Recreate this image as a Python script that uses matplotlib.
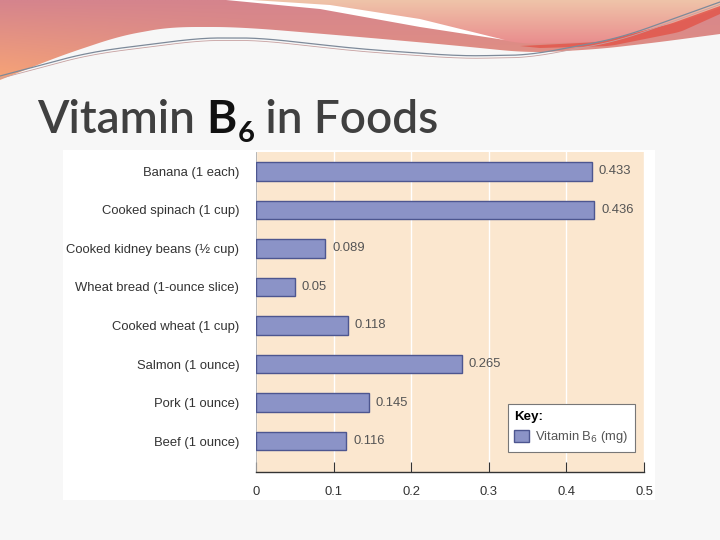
import numpy as np
import matplotlib
matplotlib.use("Agg")
import matplotlib.pyplot as plt
from matplotlib.patches import Polygon, Rectangle
from matplotlib.transforms import IdentityTransform

# chart data
foods = [
    "Banana (1 each)",
    "Cooked spinach (1 cup)",
    "Cooked kidney beans (\u00bd cup)",
    "Wheat bread (1-ounce slice)",
    "Cooked wheat (1 cup)",
    "Salmon (1 ounce)",
    "Pork (1 ounce)",
    "Beef (1 ounce)",
]
b6_mg = [0.433, 0.436, 0.089, 0.05, 0.118, 0.265, 0.145, 0.116]
value_labels = ["0.433", "0.436", "0.089", "0.05", "0.118", "0.265", "0.145", "0.116"]
x_ticks = [0, 0.1, 0.2, 0.3, 0.4, 0.5]
x_tick_labels = ["0", "0.1", "0.2", "0.3", "0.4", "0.5"]

W, H = 720, 540
fig = plt.figure(figsize=(7.2, 5.4), dpi=100)
fig.patch.set_facecolor("#f7f7f7")

# ---------- slide decoration (pixel space overlay) ----------
deco = fig.add_axes([0, 0, 1, 1])
deco.set_xlim(0, W)
deco.set_ylim(H, 0)
deco.axis("off")


def rgb(c):
    return np.array(matplotlib.colors.to_rgb(c))


def clipped_image(ax, pts, img, extent, zorder):
    poly = Polygon(pts, closed=True, facecolor="none", edgecolor="none")
    ax.add_patch(poly)
    im = ax.imshow(img, extent=extent, aspect="auto", zorder=zorder,
                   interpolation="bilinear")
    im.set_clip_path(poly)


def smooth(xs, ys, n=200):
    t = np.linspace(0, 1, len(xs))
    tt = np.linspace(0, 1, n)
    fx = np.interp(tt, t, xs)
    fy = np.interp(tt, t, ys)
    k = 15
    ker = np.ones(k) / k
    fy = np.convolve(np.pad(fy, k // 2, mode="edge"), ker, mode="valid")
    fx = np.convolve(np.pad(fx, k // 2, mode="edge"), ker, mode="valid")
    fx[0], fx[-1] = xs[0], xs[-1]
    fy[0], fy[-1] = ys[0], ys[-1]
    return fx, fy


# main salmon band, 2D gradient: pink on top, orange towards bottom-left
bx, by = smooth([0, 60, 120, 170, 240, 360, 450, 530, 600, 660, 720],
                [80, 56, 36, 27, 27, 37, 45, 53, 49, 42, 34])
band = [(0, 0), (720, 0)] + list(zip(bx[::-1], by[::-1]))
gy = np.linspace(0, 1, 60)[:, None, None]
gx = np.linspace(0, 1, 120)[None, :, None]
top = rgb("#d5848d")
bot_left = rgb("#f7a476")
bot_right = rgb("#e59480")
wx_ = np.clip(gx / 0.35, 0, 1)
bot = bot_left * (1 - wx_) + bot_right * wx_
img = top * (1 - gy) + bot * gy
clipped_image(deco, band, img, (0, 720, 80, 0), zorder=1)

# peach region top-right
px, py = smooth([240, 330, 430, 520, 600, 680, 720], [0, 6, 24, 44, 42, 22, 8])
peach = [(720, 0), (240, 0)] + list(zip(px, py))
g = np.linspace(0, 1, 60)[:, None, None]
img2 = rgb("#efc4a9") * (1 - g) + rgb("#e98a8c") * g
clipped_image(deco, peach, np.repeat(img2, 4, axis=1), (240, 720, 46, 0), zorder=2)

# white wedge between band and peach region
deco.add_patch(Polygon([(226, 0), (252, 0), (330, 5), (420, 19), (505, 40), (420, 27), (320, 9)],
                       closed=True, facecolor="white", edgecolor="none", zorder=3))

# red streak
rx, ry = smooth([520, 600, 670, 720], [46, 42, 24, 6])
rx2, ry2 = smooth([540, 610, 680, 720], [48, 46, 32, 14])
deco.add_patch(Polygon(list(zip(rx, ry)) + list(zip(rx2[::-1], ry2[::-1])), closed=True,
                       facecolor="#e2574c", edgecolor="none", alpha=0.85, zorder=4))

# thin swoosh lines
lx, ly = smooth([0, 90, 200, 260, 360, 460, 530, 620, 720], [76, 52, 38, 38, 49, 56, 55, 38, 2])
deco.plot(lx, ly, color="#7d8a9a", lw=0.9, zorder=5)
deco.plot(lx, ly + 2.5, color="#c7a0a0", lw=0.6, zorder=5)

# white chart panel
deco.add_patch(Rectangle((63, 150), 592, 350, facecolor="white", edgecolor="none", zorder=0.5))

# ---------- title (pieces chained left to right) ----------
fig.canvas.draw()
r = fig.canvas.get_renderer()
t1 = fig.text(37, H - 133, "Vitamin ", fontsize=33, family="Lato", fontweight="semibold",
              color="#404040", va="baseline", transform=IdentityTransform())
x_next = t1.get_window_extent(r).x1
t2 = fig.text(x_next, H - 133, "B", fontsize=33, family="Lato", fontweight="bold",
              color="#111111", va="baseline", transform=IdentityTransform())
x_next = t2.get_window_extent(r).x1 + 1
t3 = fig.text(x_next, H - 142, "6", fontsize=21, family="Lato", fontweight="bold",
              color="#111111", va="baseline", transform=IdentityTransform())
x_next = t3.get_window_extent(r).x1
fig.text(x_next, H - 133, " in Foods", fontsize=33, family="Lato", fontweight="semibold",
         color="#404040", va="baseline", transform=IdentityTransform())

# ---------- bar chart ----------
ax = fig.add_axes([256 / W, 1 - 472 / H, 388 / W, 320 / H])
ax.set_facecolor("#fbe7cf")
y = np.arange(len(foods))[::-1]
bars = ax.barh(y, b6_mg, height=0.48, color="#8b93c7", edgecolor="#4d5690",
               linewidth=1, zorder=3)
for yi, v, lab in zip(y, b6_mg, value_labels):
    ax.text(v + 0.009, yi, lab, va="center", ha="left", fontsize=9.4,
            family="Liberation Sans", color="#555555", zorder=4)

ax.set_xlim(0, 0.5)
ax.set_ylim(-0.8, len(foods) - 0.5)
ax.set_yticks(y)
ax.set_yticklabels(foods, fontsize=9.4, family="Liberation Sans", color="#333333")
ax.set_xticks(x_ticks)
ax.set_xticklabels(x_tick_labels, fontsize=9.4, family="Liberation Sans", color="#333333")
ax.tick_params(axis="y", length=0, pad=12)
ax.tick_params(axis="x", direction="in", length=7, width=0.8, color="#333333", pad=10)
ax.grid(axis="x", color="white", linewidth=1, zorder=1)
ax.set_axisbelow(True)
for s in ["top", "right"]:
    ax.spines[s].set_visible(False)
ax.spines["bottom"].set_color("#333333")
ax.spines["bottom"].set_linewidth(1)
ax.spines["left"].set_color("#aaaaaa")
ax.spines["left"].set_linewidth(0.6)

leg = ax.legend([bars], ["Vitamin B$_6$ (mg)"], title="Key:", loc="lower right",
                bbox_to_anchor=(0.977, 0.0625), borderaxespad=0, frameon=True,
                fancybox=False, edgecolor="#777777", framealpha=1, borderpad=0.5,
                handlelength=1.1, handleheight=1.1, handletextpad=0.5,
                prop={"family": "Liberation Sans", "size": 9.4}, alignment="left")
leg.get_title().set_fontweight("bold")
leg.get_title().set_fontsize(9.6)
leg.get_title().set_family("Liberation Sans")
leg.get_frame().set_linewidth(0.8)
for t in leg.get_texts():
    t.set_color("#555555")

fig.savefig("out.png", dpi=100, facecolor=fig.get_facecolor())
